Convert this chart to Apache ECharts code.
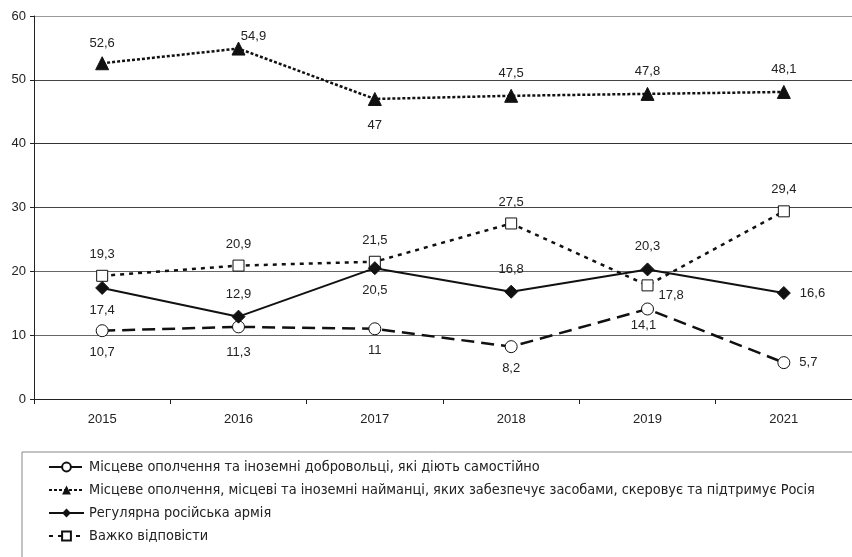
<!DOCTYPE html>
<html>
<head>
<meta charset="utf-8">
<script src="https://cdn.jsdelivr.net/npm/echarts@6/dist/echarts.min.js"></script>
<style>
  html, body { margin: 0; padding: 0; background: #fff; }
  #chart { width: 852px; height: 557px; }
</style>
</head>
<body>
<div id="chart"></div>
<script>
// роки опитування
const years = ['2015', '2016', '2017', '2018', '2019', '2021'];

const seriesNames = [
  'Місцеве ополчення та іноземні добровольці, які діють самостійно',
  'Місцеве ополчення, місцеві та іноземні найманці, яких забезпечує засобами, скеровує та підтримує Росія',
  'Регулярна російська армія',
  'Важко відповісти'
];

const volunteers = [10.7, 11.3, 11, 8.2, 14.1, 5.7];
const mercenaries = [52.6, 54.9, 47, 47.5, 47.8, 48.1];
const regularArmy = [17.4, 12.9, 20.5, 16.8, 20.3, 16.6];
const hardToSay = [19.3, 20.9, 21.5, 27.5, 17.8, 29.4];

const yTicks = [0, 10, 20, 30, 40, 50, 60];

// де стоїть підпис кожної точки
const volunteersPos = ['bottom', 'bottom', 'bottom', 'bottom', 'bottom', 'right'];
const mercenariesPos = ['top', 'top', 'bottom', 'top', 'top', 'top'];
const regularArmyPos = ['bottom', 'top', 'bottom', 'top', 'top', 'right'];
const hardToSayPos = ['top', 'top', 'top', 'top', 'right', 'top'];

const FONT = "'Liberation Sans', Arial, sans-serif";
const NARROW = "'Liberation Sans Narrow', 'Arial Narrow', 'DejaVu Sans Condensed', sans-serif";

const fmt = (v) => String(v).replace('.', ',');

function withLabels(values, positions, extra) {
  return values.map((v, i) => {
    const pos = positions[i];
    const label = { position: pos, distance: 9 };
    if (extra && extra[i]) Object.assign(label, extra[i]);
    return { value: v, label: label };
  });
}

const labelStyle = {
  show: true,
  color: '#222',
  fontSize: 13,
  fontFamily: FONT,
  formatter: (p) => fmt(p.value)
};

const chart = echarts.init(document.getElementById('chart'));

chart.setOption({
  animation: false,
  backgroundColor: '#fff',
  grid: { left: 34, right: -6, top: 16, bottom: 158, containLabel: false },
  xAxis: {
    type: 'category',
    data: years,
    boundaryGap: true,
    axisLine: { lineStyle: { color: '#222', width: 1 } },
    axisTick: { show: true, length: 5, lineStyle: { color: '#222' } },
    axisLabel: { color: '#222', fontSize: 13, margin: 14, fontFamily: FONT }
  },
  yAxis: {
    type: 'value',
    min: yTicks[0],
    max: yTicks[yTicks.length - 1],
    interval: 10,
    axisLine: { show: true, lineStyle: { color: '#222', width: 1 } },
    axisTick: { show: true, length: 4, lineStyle: { color: '#222' } },
    axisLabel: { color: '#222', fontSize: 13, margin: 8, fontFamily: FONT },
    splitLine: { show: true, lineStyle: { color: ['#222', '#666', '#666', '#444', '#333', '#444', '#999'], width: 1 } }
  },
  legend: {
    orient: 'vertical',
    left: 43,
    top: 455,
    itemGap: 9,
    itemWidth: 35,
    itemHeight: 11,
    textStyle: { color: '#222', fontSize: 14.4, fontFamily: NARROW },
    data: seriesNames
  },
  graphic: [{
    type: 'rect',
    shape: { x: 22, y: 452, width: 840, height: 120 },
    style: { fill: 'none', stroke: '#888', lineWidth: 1 },
    z: -1,
    silent: true
  }],
  series: [
    {
      name: seriesNames[0],
      type: 'line',
      data: withLabels(volunteers, volunteersPos, { 1: { offset: [0, 4] }, 4: { offset: [-4, -6] } }),
      symbol: 'circle',
      symbolSize: 12,
      itemStyle: { color: '#fff', borderColor: '#111', borderWidth: 1 },
      lineStyle: { color: '#111', width: 2.5, type: [13, 7] },
      label: labelStyle,
      z: 3
    },
    {
      name: seriesNames[1],
      type: 'line',
      data: withLabels(mercenaries, mercenariesPos, { 0: { offset: [0, 3] }, 1: { offset: [15, 10] }, 2: { offset: [0, 4] } }),
      symbol: 'triangle',
      symbolSize: 13,
      itemStyle: { color: '#111', borderColor: '#111' },
      lineStyle: { color: '#111', width: 2.5, type: [3, 2] },
      label: labelStyle,
      z: 3
    },
    {
      name: seriesNames[2],
      type: 'line',
      data: withLabels(regularArmy, regularArmyPos),
      symbol: 'diamond',
      symbolSize: 13,
      itemStyle: { color: '#111', borderColor: '#111' },
      lineStyle: { color: '#111', width: 2 },
      label: labelStyle,
      z: 4
    },
    {
      name: seriesNames[3],
      type: 'line',
      data: withLabels(hardToSay, hardToSayPos, { 4: { offset: [-4, 10] } }),
      symbol: 'rect',
      symbolSize: 11,
      itemStyle: { color: '#fff', borderColor: '#111', borderWidth: 1 },
      lineStyle: { color: '#111', width: 2.5, type: [4, 5] },
      label: labelStyle,
      z: 3
    }
  ]
});
</script>
</body>
</html>
